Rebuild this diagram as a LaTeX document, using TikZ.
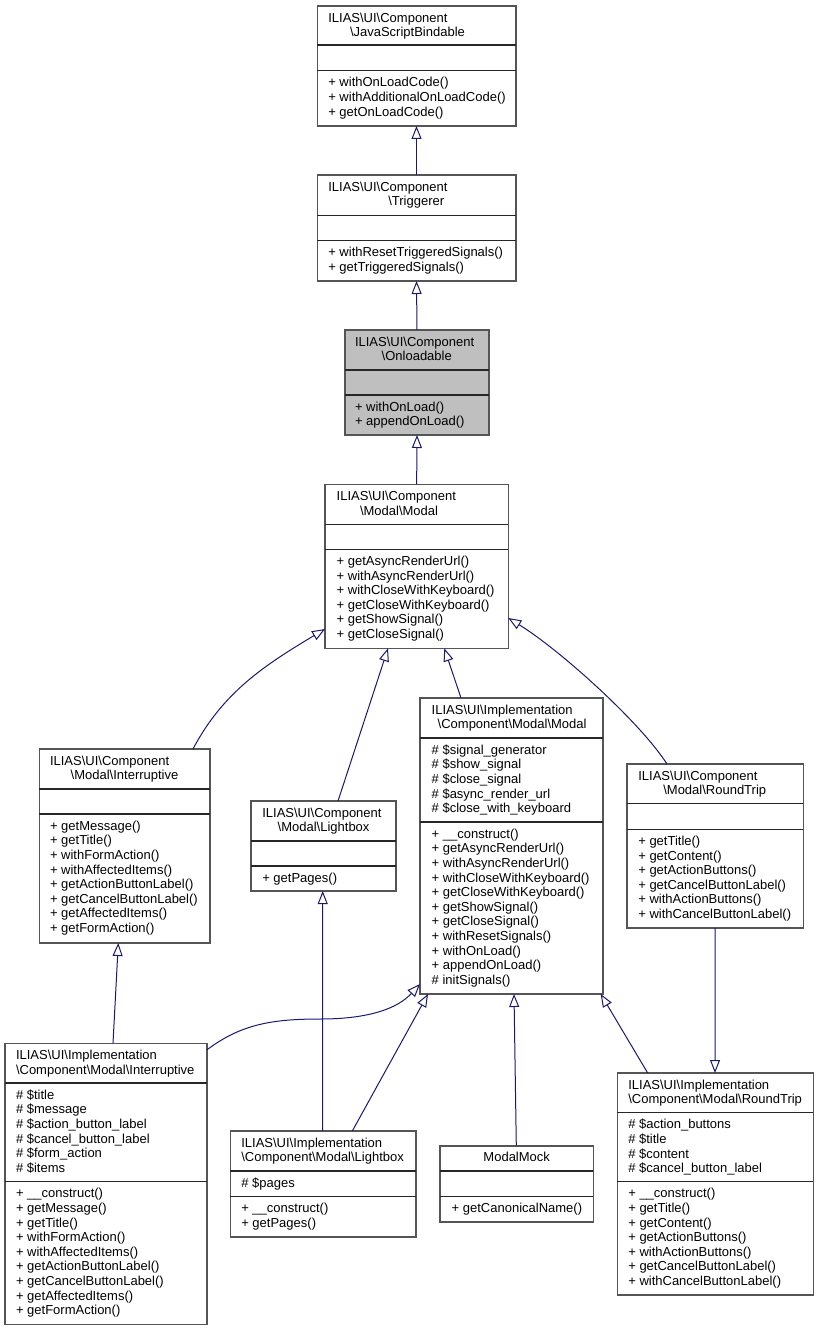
\documentclass[tikz,border=0pt]{standalone}
\usepackage{fontspec}
\setmainfont{Liberation Sans}
\usetikzlibrary{arrows.meta}
\definecolor{edgeblue}{HTML}{191970}
\definecolor{boxgray}{HTML}{555555}
\definecolor{mainfill}{HTML}{BFBFBF}
\tikzset{
  cls/.style={draw=boxgray, line width=1.6bp, inner sep=0pt, outer sep=0pt, anchor=north west, rectangle},
  sepline/.style={draw=black!85, line width=1.2bp},
  txt/.style={inner sep=0pt, outer sep=0pt, font=\fontsize{13bp}{14.6bp}\selectfont, anchor=base west, text=black},
  inh/.style={draw=edgeblue, line width=1bp, -{Triangle[open, length=13bp, width=10bp]}},
}
\newcommand\bs{\textbackslash}
% #1 fill, #2 name, #3 left, #4 top, #5 right, #6 bottom, #7 sep1, #8 sep2
\newcommand\umlbox[8][white]{%
  \node[cls, fill=#1, minimum width={(#5-#3)*1bp}, minimum height={(#6-#4)*1bp}] (#2) at (#3,#4) {};
  \draw[sepline] (#3,#7) -- (#5,#7);
  \draw[sepline] (#3,#8) -- (#5,#8);}
% #1 name prefix, #2 x, #3 first baseline, #4 list
\newcommand\txtlines[4]{%
  \foreach \ln [count=\k from 1] in {#4} {\node[txt] (#1\k) at (#2, {#3+14.6*(\k-1)}) {\ln};}}
\begin{document}
\begin{tikzpicture}[x=1bp, y=-1bp]
\useasboundingbox (0,0) rectangle (819,1331);

% ---------- boxes ----------
\umlbox{jsb}{317.3}{6}{515.7}{126}{45}{70.7}
\node[txt] (jsbA) at (328.3,22.2) {ILIAS\bs UI\bs Component};
\node[txt] (jsbB) at (350,36.8) {\bs JavaScriptBindable};
\txtlines{jsbm}{328.3}{86.9}{+ withOnLoadCode(), + withAdditionalOnLoadCode(), + getOnLoadCode()}

\umlbox{trg}{317.3}{175}{515.7}{281}{215.7}{240.7}
\node[txt] (trgA) at (328.3,191.2) {ILIAS\bs UI\bs Component};
\node[txt] (trgB) at (388.3,205.8) {\bs Triggerer};
\txtlines{trgm}{328.3}{256.9}{+ withResetTriggeredSignals(), + getTriggeredSignals()}

\umlbox[mainfill]{onl}{345}{330}{489}{435}{370}{395}
\node[txt] (onlA) at (355,346.2) {ILIAS\bs UI\bs Component};
\node[txt] (onlB) at (381.7,360.8) {\bs Onloadable};
\txtlines{onlm}{355}{411.2}{+ withOnLoad(), + appendOnLoad()}

\umlbox{mdl}{325}{484.3}{508.3}{648.3}{524.3}{549.3}
\node[txt] (mdlA) at (336.7,500.5) {ILIAS\bs UI\bs Component};
\node[txt] (mdlB) at (360,515.1) {\bs Modal\bs Modal};
\txtlines{mdlm}{336.7}{565.5}{+ getAsyncRenderUrl(), + withAsyncRenderUrl(), + withCloseWithKeyboard(), + getCloseWithKeyboard(), + getShowSignal(), + getCloseSignal()}

\umlbox{intr}{39.3}{749}{210}{943}{789}{814}
\node[txt] (intrA) at (50,765.2) {ILIAS\bs UI\bs Component};
\node[txt] (intrB) at (70.7,779.8) {\bs Modal\bs Interruptive};
\txtlines{intrm}{50}{830.2}{+ getMessage(), + getTitle(), + withFormAction(), + withAffectedItems(), + getActionButtonLabel(), + getCancelButtonLabel(), + getAffectedItems(), + getFormAction()}

\umlbox{lb}{251}{801}{395.7}{891}{841}{866}
\node[txt] (lbA) at (262.3,817.2) {ILIAS\bs UI\bs Component};
\node[txt] (lbB) at (277.7,831.8) {\bs Modal\bs Lightbox};
\txtlines{lbm}{262.3}{882.2}{+ getPages()}

\umlbox{imod}{420}{698}{602.7}{994}{738}{822}
\node[txt] (imodA) at (431.7,714.2) {ILIAS\bs UI\bs Implementation};
\node[txt] (imodB) at (437.7,728.8) {\bs Component\bs Modal\bs Modal};
\txtlines{imoda}{431.7}{754.2}{\# \$signal\_generator, \# \$show\_signal, \# \$close\_signal, \# \$async\_render\_url, \# \$close\_with\_keyboard}
\txtlines{imodm}{431.7}{838.2}{+ \_\_construct(), + getAsyncRenderUrl(), + withAsyncRenderUrl(), + withCloseWithKeyboard(), + getCloseWithKeyboard(), + getShowSignal(), + getCloseSignal(), + withResetSignals(), + withOnLoad(), + appendOnLoad(), \# initSignals()}

\umlbox{rt}{627}{764}{803.3}{928}{803.7}{829.3}
\node[txt] (rtA) at (638.3,780.2) {ILIAS\bs UI\bs Component};
\node[txt] (rtB) at (663.3,794.8) {\bs Modal\bs RoundTrip};
\txtlines{rtm}{638.3}{845.5}{+ getTitle(), + getContent(), + getActionButtons(), + getCancelButtonLabel(), + withActionButtons(), + withCancelButtonLabel()}

\umlbox{iintr}{5}{1043.3}{206.7}{1324.3}{1083}{1181.7}
\node[txt] (iintrA) at (16,1059.5) {ILIAS\bs UI\bs Implementation};
\node[txt] (iintrB) at (16,1074.1) {\bs Component\bs Modal\bs Interruptive};
\txtlines{iintra}{16}{1099.2}{\# \$title, \# \$message, \# \$action\_button\_label, \# \$cancel\_button\_label, \# \$form\_action, \# \$items}
\txtlines{iintrm}{16}{1197.9}{+ \_\_construct(), + getMessage(), + getTitle(), + withFormAction(), + withAffectedItems(), + getActionButtonLabel(), + getCancelButtonLabel(), + getAffectedItems(), + getFormAction()}

\umlbox{ilb}{230.3}{1131}{416}{1236.7}{1171}{1196.7}
\node[txt] (ilbA) at (241.3,1147.2) {ILIAS\bs UI\bs Implementation};
\node[txt] (ilbB) at (241.3,1161.8) {\bs Component\bs Modal\bs Lightbox};
\txtlines{ilba}{241.3}{1187.2}{\# \$pages}
\txtlines{ilbm}{241.3}{1212.9}{+ \_\_construct(), + getPages()}

\umlbox{mock}{440}{1145.7}{593.3}{1221.7}{1171}{1196.7}
\node[txt, anchor=base] (mockA) at (516.7,1161.9) {ModalMock};
\txtlines{mockm}{451.7}{1212.9}{+ getCanonicalName()}

\umlbox{irt}{617.3}{1073}{813.3}{1294.7}{1112.7}{1181.7}
\node[txt] (irtA) at (628.3,1089.2) {ILIAS\bs UI\bs Implementation};
\node[txt] (irtB) at (628.3,1103.8) {\bs Component\bs Modal\bs RoundTrip};
\txtlines{irta}{628.3}{1128.9}{\# \$action\_buttons, \# \$title, \# \$content, \# \$cancel\_button\_label}
\txtlines{irtm}{628.3}{1197.9}{+ \_\_construct(), + getTitle(), + getContent(), + getActionButtons(), + withActionButtons(), + getCancelButtonLabel(), + withCancelButtonLabel()}

% ---------- inheritance edges ----------
\draw[inh] (trg.north) -- (jsb.south);
\draw[inh] (onl.north) -- (trg.south);
\draw[inh] (mdl.north) -- (onl.south);
\draw[inh] ([xshift=153.7bp]intr.north west) .. controls (223,692) and (265,665) .. ([yshift=19.3bp]mdl.south west);
\draw[inh] ([xshift=87bp]lb.north west) -- ([xshift=63bp]mdl.south west);
\draw[inh] ([xshift=41bp]imod.north west) -- ([xshift=119.3bp]mdl.south west);
\draw[inh] ([xshift=40bp]rt.north west) .. controls (640,722) and (560,650) .. ([yshift=30.3bp]mdl.south east);
\draw[inh] ([xshift=108bp]iintr.north west) -- ([xshift=79bp]intr.south west);
\draw[inh] ([xshift=92.4bp]ilb.north west) -- ([xshift=71.7bp]lb.south west);
\draw[inh] ([yshift=-6.7bp]iintr.north east) .. controls (240,1025) and (270,1019) .. (320,1019) .. controls (370,1019) and (398,1008) .. ([yshift=10bp]imod.south west);
\draw[inh] ([xshift=122bp]ilb.north west) -- ([xshift=8bp]imod.south west);
\draw[inh] ([xshift=76.3bp]mock.north west) -- ([xshift=94bp]imod.south west);
\draw[inh] ([xshift=30.4bp]irt.north west) -- ([xshift=-2bp]imod.south east);
\draw[inh] ([xshift=88bp]rt.south west) -- ([xshift=97.7bp]irt.north west);
\end{tikzpicture}
\end{document}
